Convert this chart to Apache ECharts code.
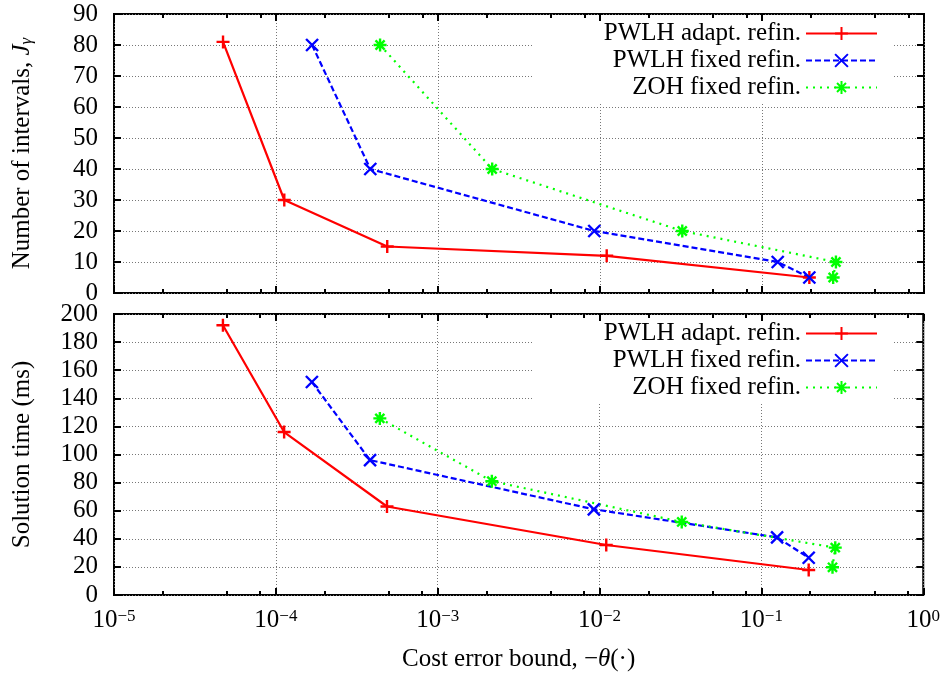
<!DOCTYPE html>
<html>
<head>
<meta charset="utf-8">
<script src="https://cdn.jsdelivr.net/npm/echarts@6/dist/echarts.min.js"></script>
<style>
html, body { margin: 0; padding: 0; background: #fff; }
#chart { width: 943px; height: 676px; }
</style>
</head>
<body>
<div id="chart"></div>
<script>
// series names
const seriesNames = ['PWLH adapt. refin.', 'PWLH fixed refin.', 'ZOH fixed refin.']

// cost error bound (x) for each series
const xAdapt = [4.71e-5, 1.125e-4, 4.86e-4, 1.1e-2, 0.196]
const xPwlhFixed = [1.67e-4, 3.82e-4, 9.22e-3, 0.125, 0.196]
const xZohFixed = [4.39e-4, 2.16e-3, 3.22e-2, 0.286, 0.275]

// number of intervals (top panel)
const intervalsAdapt = [81, 30, 15, 12, 5]
const intervalsPwlhFixed = [80, 40, 20, 10, 5]
const intervalsZohFixed = [80, 40, 20, 10, 5]

// solution time in ms (bottom panel)
const timeAdapt = [192, 116, 63, 35.6, 17.8]
const timePwlhFixed = [151.6, 96, 61, 41, 26.5]
const timeZohFixed = [125.7, 81, 52, 33.7, 19.7]

// log axis minor ticks, per decade
const minorMultipliers = [2, 5, 8]
const decades = [-5, -4, -3, -2, -1]

const FONT = '"Liberation Serif", "Times New Roman", serif'
const FS = 25
const chart = echarts.init(document.getElementById('chart'))

function zip(xs, ys){
	return xs.map((x, i) => [x, ys[i]])
}

let minorValues = []
decades.forEach(d => {
	minorMultipliers.forEach(m => minorValues.push(m * Math.pow(10, d)))
})

//  +  x  * 
const symPlus = 'path://M5,0L5,10M0,5L10,5'
const symCross = 'path://M0,0L10,10M10,0L0,10'
const symStar = 'path://M5,0L5,10M0,5L10,5M1.5,1.5L8.5,8.5M8.5,1.5L1.5,8.5'

const styles = [
	{ color: '#ff0000', type: 'solid', symbol: symPlus, size: 13 },
	{ color: '#0000ff', type: [6, 3], symbol: symCross, size: 12 },
	{ color: '#00ff00', type: [2, 5], symbol: symStar, size: 13 },
]

const grids = [
	{ left: 114, right: 19, top: 14, height: 279, show: true, borderColor: '#000', borderWidth: 2, backgroundColor: 'transparent' },
	{ left: 114, right: 19, top: 314, height: 281, show: true, borderColor: '#000', borderWidth: 2, backgroundColor: 'transparent' },
]

function supLabel(value){
	let e = Math.round(Math.log10(value))
	return '10{sup|' + (e < 0 ? '\u2212' + (-e) : e) + '}'
}

function xAxes(gridIndex, withLabels){
	let base = {
		type: 'log', logBase: 10, min: 1e-5, max: 1, gridIndex: gridIndex,
		axisLine: { show: false },
	}
	return [
		Object.assign({}, base, {
			position: 'bottom',
			axisTick: { inside: true, length: 7, lineStyle: { color: '#000', width: 2 } },
			splitLine: { show: true, lineStyle: { color: '#777', type: [1, 2], width: 1 } },
			axisLabel: withLabels ? {
				show: true, margin: 13, color: '#000', fontFamily: FONT, fontSize: FS,
				formatter: supLabel,
				rich: { sup: { fontFamily: FONT, fontSize: 17, color: '#000', verticalAlign: 'top', lineHeight: 17 } }
			} : { show: false },
			name: withLabels ? 'Cost error bound, \u2212{i|\u03b8}(\u00b7)' : '',
			nameLocation: 'middle',
			nameGap: 52,
			nameTextStyle: { color: '#000', fontFamily: FONT, fontSize: FS,
				rich: { i: { fontFamily: FONT, fontSize: FS, fontStyle: 'italic', color: '#000' } } },
		}),
		Object.assign({}, base, {
			position: 'bottom',
			axisTick: { inside: true, length: 4, customValues: minorValues, lineStyle: { color: '#000', width: 2 } },
			splitLine: { show: false }, axisLabel: { show: false },
		}),
		Object.assign({}, base, {
			position: 'top',
			axisTick: { inside: true, length: 7, lineStyle: { color: '#000', width: 2 } },
			splitLine: { show: false }, axisLabel: { show: false },
		}),
		Object.assign({}, base, {
			position: 'top',
			axisTick: { inside: true, length: 4, customValues: minorValues, lineStyle: { color: '#000', width: 2 } },
			splitLine: { show: false }, axisLabel: { show: false },
		}),
	]
}

function yAxes(gridIndex, max, interval, name){
	let base = {
		type: 'value', min: 0, max: max, interval: interval, gridIndex: gridIndex,
		axisLine: { show: false },
		axisTick: { inside: true, length: 7, lineStyle: { color: '#000', width: 2 } },
	}
	return [
		Object.assign({}, base, {
			position: 'left',
			splitLine: { show: true, lineStyle: { color: '#777', type: [1, 2], width: 1 } },
			axisLabel: { margin: 16, color: '#000', fontFamily: FONT, fontSize: FS },
			name: name,
			nameLocation: 'middle',
			nameGap: 79,
			nameTextStyle: { color: '#000', fontFamily: FONT, fontSize: FS,
				rich: {
					i: { fontFamily: FONT, fontSize: FS, fontStyle: 'italic', color: '#000' },
					sub: { fontFamily: FONT, fontSize: 17, fontStyle: 'italic', color: '#000', verticalAlign: 'bottom', lineHeight: 17 },
				} },
		}),
		Object.assign({}, base, {
			position: 'right',
			splitLine: { show: false }, axisLabel: { show: false },
		}),
	]
}

let xAxis = xAxes(0, false).concat(xAxes(1, true))
let yAxis = yAxes(0, 90, 10, 'Number of intervals, {i|J}{sub|\u03b3}').concat(yAxes(1, 200, 20, 'Solution time (ms)'))

const xs = [xAdapt, xPwlhFixed, xZohFixed]
const topYs = [intervalsAdapt, intervalsPwlhFixed, intervalsZohFixed]
const botYs = [timeAdapt, timePwlhFixed, timeZohFixed]

let seriesData = []
for (let p = 0; p < 2; p++) {
	let ys = p === 0 ? topYs : botYs
	for (let i = 0; i < 3; i++) {
		seriesData.push({
			name: seriesNames[i],
			type: 'line',
			xAxisIndex: p * 4,
			yAxisIndex: p * 2,
			data: zip(xs[i], ys[i]),
			symbol: styles[i].symbol,
			symbolSize: styles[i].size,
			showAllSymbol: true,
			lineStyle: { color: styles[i].color, width: 2.2, type: styles[i].type },
			itemStyle: { color: styles[i].color, borderColor: styles[i].color, borderWidth: 2.4 },
			z: 3,
		})
	}
}

function legendAt(top){
	return {
		data: seriesNames,
		orient: 'vertical',
		align: 'right',
		right: 50,
		top: top,
		itemWidth: 71,
		itemHeight: 16,
		itemGap: 2,
		padding: [0, 15, 2, 70],
		backgroundColor: '#fff',
		selectedMode: false,
		textStyle: { color: '#000', fontFamily: FONT, fontSize: FS },
	}
}

let option = {
	animation: false,
	backgroundColor: '#fff',
	grid: grids,
	legend: [legendAt(21), legendAt(321)],
	xAxis: xAxis,
	yAxis: yAxis,
	series: seriesData,
}
option && chart.setOption(option)
</script>
</body>
</html>
